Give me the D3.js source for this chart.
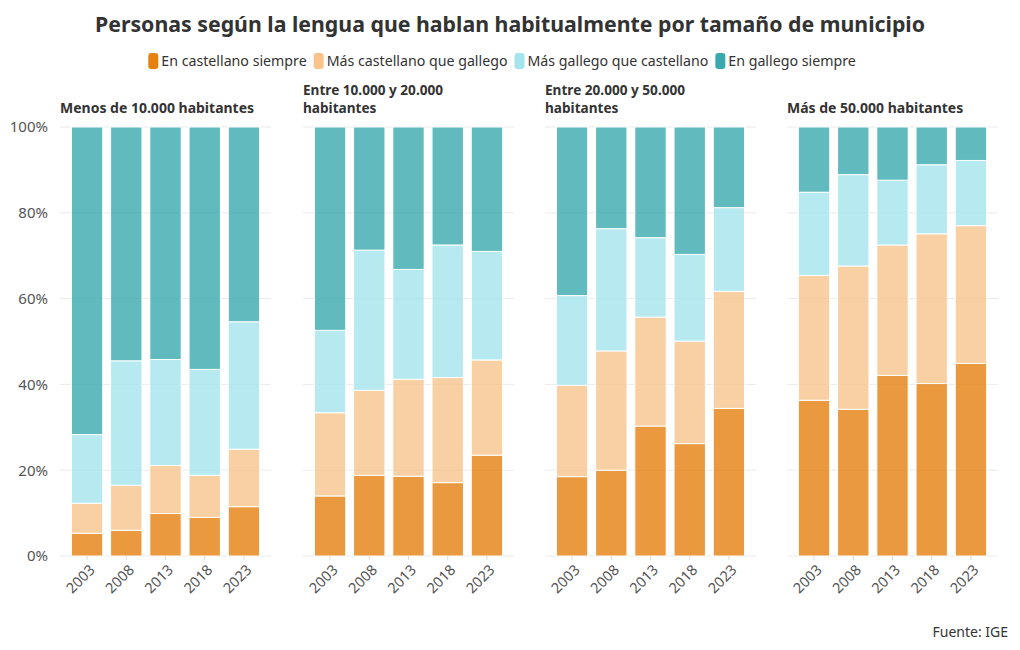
<!DOCTYPE html>
<html><head><meta charset="utf-8">
<script src="https://cdn.jsdelivr.net/npm/d3@7/dist/d3.min.js"></script>
<style>
body{margin:0;background:#fff;}
text{font-family:"Noto Sans",sans-serif;}
</style></head>
<body><svg id="c" width="1020" height="650"></svg>
<script>
const years = ["2003","2008","2013","2018","2023"];
const panels = ["Menos de 10.000 habitantes","Entre 10.000 y 20.000 habitantes","Entre 20.000 y 50.000 habitantes","Más de 50.000 habitantes"];
const seriesNames = ["En castellano siempre","Más castellano que gallego","Más gallego que castellano","En gallego siempre"];
const colors = ["#e6800f","#f8c48c","#a4e4ec","#38a9ae"];
const yTicks = [0,20,40,60,80,100];
// values per panel, per series, per year (%)
const castellanoSiempre = [[5.3,6.0,9.9,9.0,11.5],[14.0,18.8,18.6,17.1,23.5],[18.5,20.0,30.3,26.2,34.4],[36.3,34.2,42.1,40.2,44.9]];
const masCastellano = [[7.0,10.5,11.2,9.8,13.4],[19.4,19.8,22.6,24.5,22.2],[21.3,27.8,25.4,23.9,27.3],[29.1,33.4,30.4,34.9,32.1]];
const masGallego = [[16.0,29.0,24.7,24.7,29.7],[19.2,32.7,25.6,30.9,25.3],[20.9,28.5,18.5,20.2,19.5],[19.4,21.3,15.1,16.1,15.2]];
const gallegoSiempre = [[71.7,54.5,54.2,56.5,45.4],[47.4,28.7,33.2,27.5,29.0],[39.3,23.7,25.8,29.7,18.8],[15.2,11.1,12.4,8.8,7.8]];

const svg = d3.select("#c");
svg.append("text").attr("x",510).attr("y",32).attr("text-anchor","middle")
  .attr("font-size",21.3).attr("font-weight",700).attr("fill","#333")
  .text("Personas según la lengua que hablan habitualmente por tamaño de municipio");

// legend
const leg = svg.append("g");
let lx = 0;
seriesNames.forEach((n,i)=>{
  const g = leg.append("g").attr("transform",`translate(${lx},0)`);
  g.append("rect").attr("x",0).attr("y",53).attr("width",10).attr("height",16).attr("rx",3).attr("fill",colors[i]);
  const t = g.append("text").attr("x",13).attr("y",66).attr("font-size",14.2).attr("fill","#333").text(n);
  lx += 13 + t.node().getComputedTextLength() + 7;
});
leg.attr("transform",`translate(${502 - (lx-7)/2},0)`);

const y = d3.scaleLinear().domain([0,100]).range([556,127]);
const panelX = [60,303,545,787];
const panelW = 211;

panels.forEach((p,pi)=>{
  const g = svg.append("g").attr("transform",`translate(${panelX[pi]},0)`);
  const x = d3.scaleBand().domain(years).range([0,panelW]).paddingInner(0.2).paddingOuter(0.29);
  // grid
  g.selectAll("line.grid").data(yTicks).join("line")
    .attr("x1",0).attr("x2",panelW).attr("y1",d=>y(d)).attr("y2",d=>y(d))
    .attr("stroke","#ebebeb").attr("stroke-width",1);
  // title
  const words = p.split(" ");
  if (p.length > 28) {
    g.append("text").attr("x",0).attr("y",95).attr("font-size",13.6).attr("font-weight",700).attr("fill","#333")
      .text(words.slice(0,-1).join(" "));
    g.append("text").attr("x",0).attr("y",112.5).attr("font-size",13.6).attr("font-weight",700).attr("fill","#333")
      .text(words[words.length-1]);
  } else {
    g.append("text").attr("x",0).attr("y",113).attr("font-size",14).attr("font-weight",700).attr("fill","#333").text(p);
  }
  // stacked data
  const rows = years.map((yr,i)=>({year:yr, s0:castellanoSiempre[pi][i], s1:masCastellano[pi][i], s2:masGallego[pi][i], s3:gallegoSiempre[pi][i]}));
  const stack = d3.stack().keys(["s0","s1","s2","s3"]).offset(d3.stackOffsetExpand)(rows);
  stack.forEach((layer,li)=>{
    g.selectAll(null).data(layer).join("rect")
      .attr("x",d=>x(d.data.year)).attr("width",x.bandwidth())
      .attr("y",d=>y(d[1]*100)).attr("height",d=>y(d[0]*100)-y(d[1]*100))
      .attr("fill",colors[li]).attr("fill-opacity",0.8)
      .attr("stroke","#fff").attr("stroke-width",1);
  });
  // x axis
  const xa = g.append("g").attr("transform","translate(0,556)")
    .call(d3.axisBottom(x).tickSize(4).tickPadding(4));
  xa.select(".domain").remove();
  xa.selectAll("line").attr("stroke","#ddd");
  xa.selectAll("text").attr("font-size",14.5).attr("fill","#555").attr("font-family","Noto Sans")
    .attr("text-anchor","end").attr("dx","-0.3em").attr("dy","0.6em")
    .attr("transform","rotate(-45)");
  if (pi===0) {
    const ya = g.append("g").call(d3.axisLeft(y).tickValues(yTicks).tickFormat(d=>d+"%").tickSize(0).tickPadding(12));
    ya.select(".domain").remove();
    ya.selectAll("text").attr("font-size",15).attr("fill","#555").attr("font-family","Noto Sans");
  }
});

svg.append("text").attr("x",1008).attr("y",637).attr("text-anchor","end")
  .attr("font-size",14).attr("fill","#333").text("Fuente: IGE");
</script></body></html>
